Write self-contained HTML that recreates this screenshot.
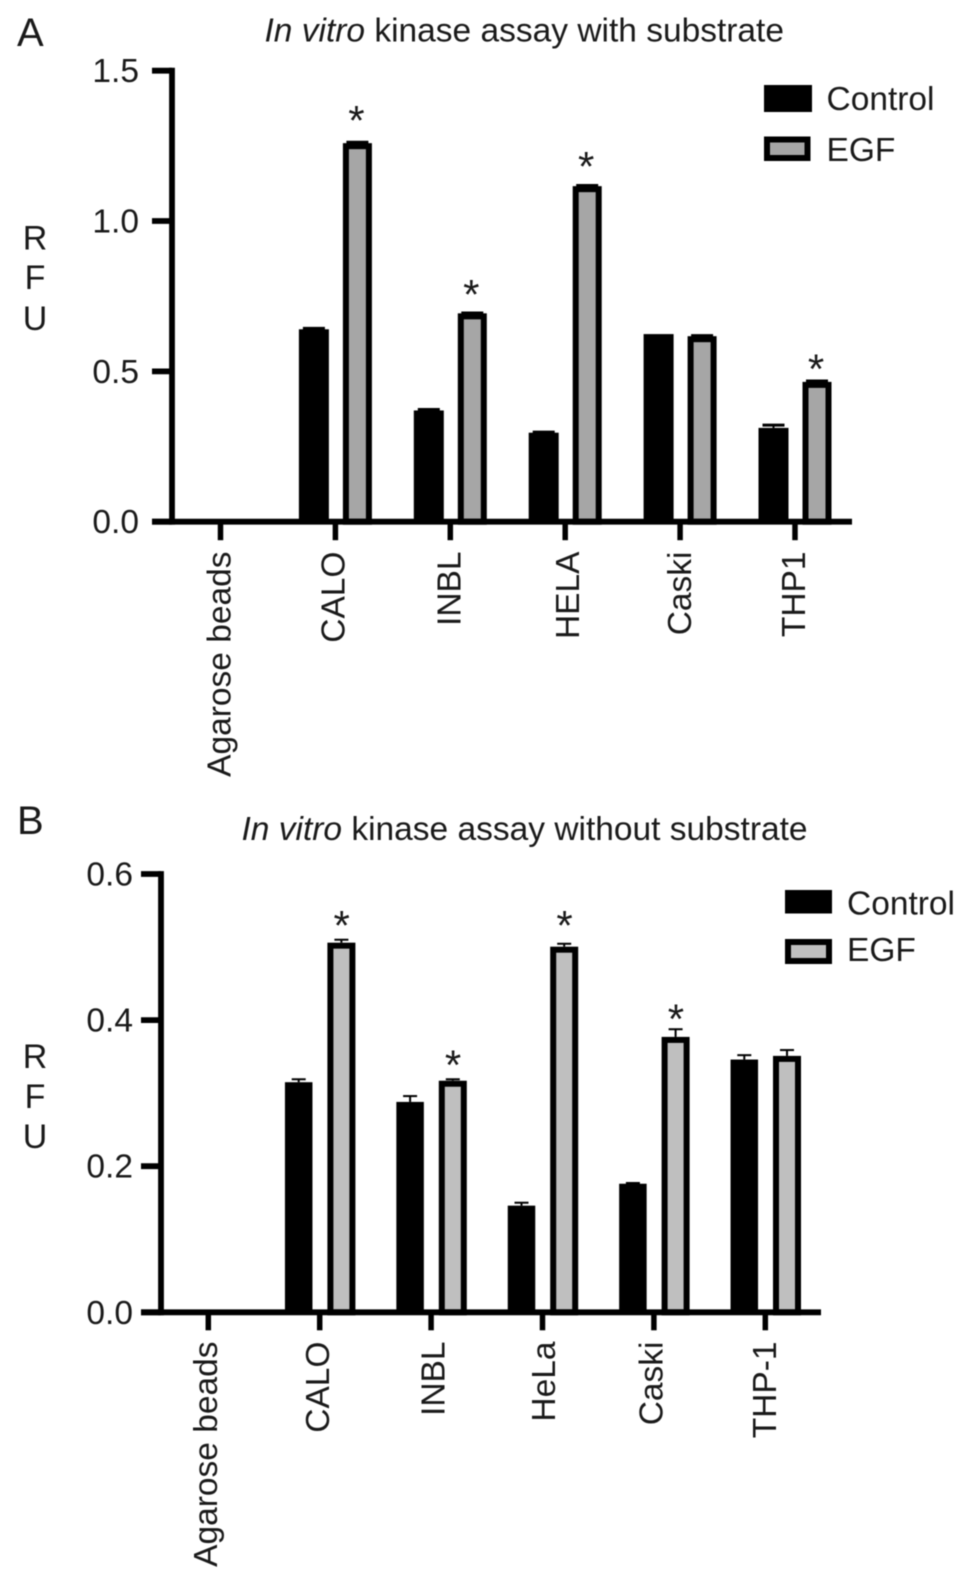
<!DOCTYPE html>
<html lang="en">
<head>
<meta charset="utf-8">
<title>In vitro kinase assay charts</title>
<style>
html,body{margin:0;padding:0;background:#fff;width:969px;height:1583px;overflow:hidden}
svg{display:block;filter:blur(0.55px)}
text{font-family:"Liberation Sans",sans-serif;fill:#1a1a1a}
</style>
</head>
<body>
<svg id="figure" width="969" height="1583" viewBox="0 0 969 1583" xmlns="http://www.w3.org/2000/svg">
  <rect x="0" y="0" width="969" height="1583" fill="#fff"/>
  <text x="17" y="46" font-size="40">A</text>
  <text x="264.5" y="41.5" font-size="33.5"><tspan font-style="italic">In vitro</tspan> kinase assay with substrate</text>
  <text x="17" y="834" font-size="40">B</text>
  <text x="241.5" y="840" font-size="33.5"><tspan font-style="italic">In vitro</tspan> kinase assay without substrate</text>

  <g font-size="34" text-anchor="middle">
    <text x="35" y="249.5">R</text>
    <text x="35" y="289">F</text>
    <text x="35" y="330">U</text>
  </g>
  <g font-size="34" text-anchor="middle">
    <text x="35" y="1068">R</text>
    <text x="35" y="1108">F</text>
    <text x="35" y="1148">U</text>
  </g>

  <g>
    <rect x="764" y="85" width="48" height="27" fill="#000"/>
    <text x="826.5" y="110" font-size="33.5">Control</text>
    <rect x="767" y="139.5" width="40.5" height="18.5" fill="#a6a6a6" stroke="#000" stroke-width="6"/>
    <text x="826.5" y="161" font-size="33.5">EGF</text>
  </g>
  <g>
    <rect x="785" y="890" width="47" height="23.5" fill="#000"/>
    <text x="847" y="914.5" font-size="33.5">Control</text>
    <rect x="788" y="942" width="41" height="19" fill="#bfbfbf" stroke="#000" stroke-width="6"/>
    <text x="847" y="961" font-size="33.5">EGF</text>
  </g>
  <g id="plot-a"></g>
  <g id="plot-b"></g>
</svg>
<script>
const categoriesA = ['Agarose beads', 'CALO', 'INBL', 'HELA', 'Caski', 'THP1'];
const controlA = [0, 0.640, 0.370, 0.296, 0.624, 0.312];
const controlErrA = [0, 0.003, 0.003, 0.002, 0, 0.009];
const egfA = [0, 1.259, 0.693, 1.116, 0.617, 0.465];
const egfErrA = [0, 0.003, 0.001, 0.002, 0.002, 0.003];
const starLiftA = [null, 0.090, 0.078, 0.080, null, 0.058];
const tickLabelsA = ['0.0', '0.5', '1.0', '1.5'];
const tickValuesA = [0, 0.5, 1.0, 1.5];

const categoriesB = ['Agarose beads', 'CALO', 'INBL', 'HeLa', 'Caski', 'THP-1'];
const controlB = [0, 0.315, 0.288, 0.146, 0.176, 0.346];
const controlErrB = [0, 0.004, 0.008, 0.004, 0.001, 0.006];
const egfB = [0, 0.506, 0.317, 0.5005, 0.377, 0.351];
const egfErrB = [0, 0.004, 0.002, 0.004, 0.0105, 0.008];
const starLiftB = [null, 0.030, 0.028, 0.035, 0.031, null];
const tickLabelsB = ['0.0', '0.2', '0.4', '0.6'];
const tickValuesB = [0, 0.2, 0.4, 0.6];

const NS = 'http://www.w3.org/2000/svg';

function add(parent, tag, attrs, name, content) {
  const el = document.createElementNS(NS, tag);
  for (const k in attrs) el.setAttribute(k, attrs[k]);
  
  
  if (content !== undefined) el.textContent = content;
  parent.appendChild(el);
  return el;
}

function drawPanel(cfg) {
  const g = document.getElementById(cfg.id);
  const yScale = v => cfg.y0 - (v - cfg.domain[0]) / (cfg.domain[1] - cfg.domain[0]) * (cfg.y0 - cfg.y1);
  const xScale = i => cfg.x0 + i * cfg.step;
  const key = cfg.key;

  cfg.categories.forEach((cat, i) => {
    const cx = xScale(i);
    const slug = cat.toLowerCase().replace(/[^a-z0-9]+/g, '-');
    // Control bar
    if (cfg.control[i] > 0) {
      const bx = cx + cfg.ctrlOffset;
      const top = yScale(cfg.control[i]);
      if (cfg.controlErr[i] > 0) {
        const capY = yScale(cfg.control[i] + cfg.controlErr[i]);
        add(g, 'line', {x1: bx, x2: bx, y1: top, y2: capY, stroke: '#000', 'stroke-width': 2}, key + '-error-stem-control-' + slug);
        add(g, 'line', {x1: bx - cfg.capHalf, x2: bx + cfg.capHalf, y1: capY, y2: capY, stroke: '#000', 'stroke-width': cfg.capWidth}, key + '-error-cap-control-' + slug);
      }
      add(g, 'rect', {x: bx - cfg.ctrlW / 2, y: top, width: cfg.ctrlW, height: cfg.y0 - top, fill: '#000'}, key + '-bar-control-' + slug);
    }
    // EGF bar
    if (cfg.egf[i] > 0) {
      const bx = cx + cfg.egfOffset;
      const top = yScale(cfg.egf[i]);
      if (cfg.egfErr[i] > 0) {
        const capY = yScale(cfg.egf[i] + cfg.egfErr[i]);
        add(g, 'line', {x1: bx, x2: bx, y1: top, y2: capY, stroke: '#000', 'stroke-width': 2}, key + '-error-stem-egf-' + slug);
        add(g, 'line', {x1: bx - cfg.capHalf, x2: bx + cfg.capHalf, y1: capY, y2: capY, stroke: '#000', 'stroke-width': cfg.capWidth}, key + '-error-cap-egf-' + slug);
      }
      add(g, 'rect', {x: bx - cfg.egfW / 2 + 3, y: top + 3, width: cfg.egfW - 6, height: cfg.y0 - top - 3, fill: cfg.egfFill, stroke: '#000', 'stroke-width': 6}, key + '-bar-egf-' + slug);
    }
    // Significance star
    if (cfg.starLift[i] !== null) {
      const sy = yScale(cfg.egf[i] + cfg.starLift[i]);
      add(g, 'text', {x: cx + cfg.starOffset, y: sy + 19, 'font-size': 42, 'text-anchor': 'middle'}, key + '-significance-star-' + slug, '*');
    }
    // X tick and label
    add(g, 'line', {x1: cx, x2: cx, y1: cfg.y0, y2: cfg.y0 + cfg.tickLen, stroke: '#000', 'stroke-width': 5.5}, key + '-x-tick-' + slug);
    const lx = cx + cfg.labelShift + cfg.labelNudge[i];
    add(g, 'text', {
      x: lx, y: cfg.labelTop, 'font-size': 33.5, 'text-anchor': 'end',
      transform: 'rotate(-90 ' + lx + ' ' + cfg.labelTop + ')'
    }, key + '-x-label-' + slug, cat);
  });

  // Y axis ticks and labels
  cfg.tickValues.forEach((v, i) => {
    const y = yScale(v);
    add(g, 'line', {x1: cfg.axisX - 20, x2: cfg.axisX, y1: y, y2: y, stroke: '#000', 'stroke-width': 5.8}, key + '-y-tick-' + cfg.tickLabels[i]);
    add(g, 'text', {x: cfg.labelRight, y: y + 11.5, 'font-size': 33.5, 'text-anchor': 'end'}, key + '-y-label-' + cfg.tickLabels[i], cfg.tickLabels[i]);
  });

  // Axis lines
  add(g, 'line', {x1: cfg.axisX, x2: cfg.axisX, y1: yScale(cfg.domain[1]) - 2.9, y2: cfg.y0 + 2.9, stroke: '#000', 'stroke-width': 5.8}, key + '-y-axis-line');
  add(g, 'line', {x1: cfg.axisX - 20, x2: cfg.xEnd, y1: cfg.y0, y2: cfg.y0, stroke: '#000', 'stroke-width': 5.8}, key + '-x-axis-line');
}

drawPanel({
  id: 'plot-a', key: 'panel-a',
  categories: categoriesA, control: controlA, controlErr: controlErrA,
  egf: egfA, egfErr: egfErrA, starLift: starLiftA,
  tickValues: tickValuesA, tickLabels: tickLabelsA,
  domain: [0, 1.5], y0: 521.7, y1: 70.7,
  x0: 220.5, step: 114.9, axisX: 172, xEnd: 852,
  ctrlOffset: -21.5, ctrlW: 30, egfOffset: 22, egfW: 29, egfFill: '#a6a6a6',
  starOffset: 21, capHalf: 11, capWidth: 3,
  tickLen: 18.5, labelShift: 11, labelNudge: [-1, -2, -1, 3, 0, -1], labelTop: 551.5, labelRight: 139
});

drawPanel({
  id: 'plot-b', key: 'panel-b',
  categories: categoriesB, control: controlB, controlErr: controlErrB,
  egf: egfB, egfErr: egfErrB, starLift: starLiftB,
  tickValues: tickValuesB, tickLabels: tickLabelsB,
  domain: [0, 0.6], y0: 1312.3, y1: 874,
  x0: 208.3, step: 111.4, axisX: 161, xEnd: 821,
  ctrlOffset: -21, ctrlW: 27.5, egfOffset: 21.7, egfW: 28, egfFill: '#bfbfbf',
  starOffset: 22, capHalf: 7, capWidth: 2,
  tickLen: 18, labelShift: 10.5, labelNudge: [-2, -1, 3, 2, -2, 0], labelTop: 1341.5, labelRight: 133
});
</script>
</body>
</html>
